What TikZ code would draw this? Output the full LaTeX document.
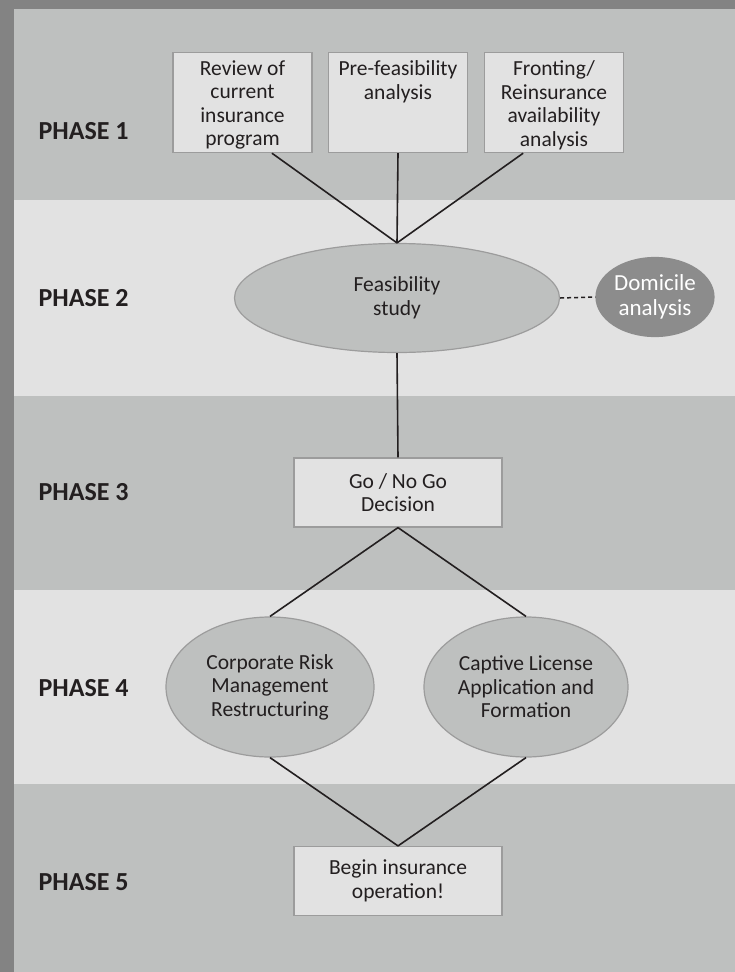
\documentclass[tikz,border=0pt]{standalone}
\usepackage{fontspec}
\setmainfont{Carlito}
\usetikzlibrary{shapes,positioning,calc}

\definecolor{framegray}{HTML}{838383}
\definecolor{darkband}{HTML}{BEC0BF}
\definecolor{lightband}{HTML}{E2E2E2}
\definecolor{edgegray}{HTML}{9C9C9C}
\definecolor{domgray}{HTML}{8C8C8C}
\definecolor{inkgray}{HTML}{231F20}

\newcommand{\topcell}[1]{\parbox[t][94pt][t]{133pt}{\centering\vspace*{5pt}#1}}

\begin{document}
\begin{tikzpicture}[x=1pt, y=-1pt,
    txt/.style={font=\fontsize{21.5}{23.5}\selectfont, text=inkgray},
    phaselabel/.style={anchor=west, font=\fontsize{26}{28}\selectfont\bfseries, text=inkgray},
    stepbox/.style={txt, draw=edgegray, fill=lightband, line width=1.2pt, align=center, minimum width=208pt, minimum height=69pt},
    topbox/.style={txt, draw=edgegray, fill=lightband, line width=1.2pt, inner sep=3pt, anchor=north},
    oval/.style={txt, ellipse, draw=edgegray, fill=darkband, line width=1.2pt, align=center, inner sep=0pt},
    link/.style={draw=inkgray, line width=1.6pt}]
    % frame and phase bands
    \fill[framegray] (0,0) rectangle (735,972);
    \foreach \ya/\yb/\c in {9/200/darkband, 200/396/lightband, 396/590/darkband, 590/784/lightband, 784/972/darkband}
        \fill[\c] (14,\ya) rectangle (735,\yb);
    \useasboundingbox (0,0) rectangle (735,972);
    \foreach \n/\y in {1/131, 2/298, 3/492, 4/688, 5/882}
        \node[phaselabel] (phase\n) at (35,\y) {PHASE \n};

    % phase 1
    \node[topbox] (review) at (242.5,52) {\topcell{Review of\\current\\insurance\\program}};
    \node[topbox] (prefeas) at (398,52) {\topcell{Pre-feasibility\\analysis}};
    \node[topbox] (fronting) at (554,52) {\topcell{Fronting/\\Reinsurance\\availability\\analysis}};

    % phase 2
    \node[oval, minimum width=325pt, minimum height=109pt] (feas) at (397,298) {Feasibility\\study};
    \node[oval, fill=domgray, draw=domgray, text=white, font=\fontsize{23}{24.5}\selectfont, minimum width=118pt, minimum height=79pt] (domicile) at (655,297) {Domicile\\analysis};

    % phase 3
    \node[stepbox] (gonogo) at (398,492.5) {Go / No Go\\Decision};

    % phase 4
    \node[oval, minimum width=208pt, minimum height=140pt] (corporate) at (270,687) {Corporate Risk\\Management\\Restructuring};
    \node[oval, minimum width=204pt, minimum height=140pt] (captive) at (526,687) {Captive License\\Application and\\Formation};

    % phase 5
    \node[stepbox] (begin) at (398,881) {Begin insurance\\operation!};

    % connectors
    \draw[link] ($(review.south)!0.42!(review.south east)$) -- (feas.north);
    \draw[link] (prefeas.south) -- (feas.north);
    \draw[link] ($(fronting.south)!0.44!(fronting.south west)$) -- (feas.north);
    \draw[link, line width=1.5pt, dash pattern=on 4pt off 3pt] (feas.east) -- (domicile.west);
    \draw[link] (feas.south) -- (gonogo.north);
    \draw[link] (gonogo.south) -- (corporate.north);
    \draw[link] (gonogo.south) -- (captive.north);
    \draw[link] (corporate.south) -- (begin.north);
    \draw[link] (captive.south) -- (begin.north);
\end{tikzpicture}
\end{document}
